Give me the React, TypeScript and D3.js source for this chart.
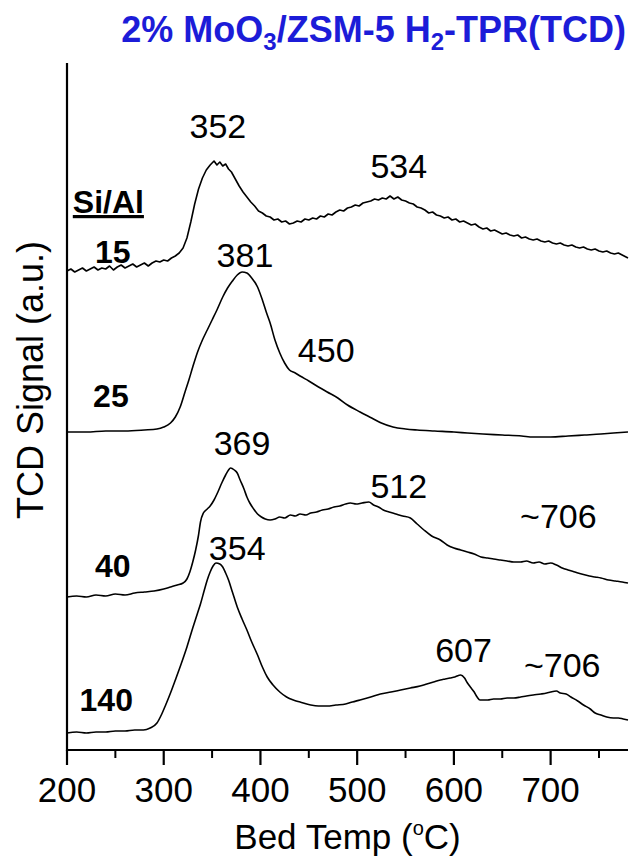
import React from 'react';
import * as d3 from 'd3';

// H2-TPR (TCD) traces of 2% MoO3/ZSM-5 for four Si/Al ratios, stacked with offsets.

const WIDTH = 633;
const HEIGHT = 857;
const PLOT = { left: 67, right: 628, top: 63, bottom: 750 };

const X_DOMAIN: [number, number] = [200, 780];
const Y_DOMAIN: [number, number] = [0, 687];
const MAJOR_TICKS = [200, 300, 400, 500, 600, 700];
const MINOR_TICKS = [250, 350, 450, 550, 650, 750];

// [bed temperature °C, offset TCD signal a.u.]
const SI_AL_15: [number, number][] = [
  [200, 479], [204, 481], [208, 478], [212, 480], [216, 482], [220, 479], [224, 481], [228, 483],
  [232, 480], [236, 482], [240, 481], [244, 484], [248, 480], [252, 483], [256, 485], [260, 482],
  [264, 484], [268, 486], [272, 483], [276, 485], [280, 487], [284, 484], [288, 487], [292, 489],
  [296, 488], [300, 490], [304, 489], [308, 492], [312, 494], [316, 497], [320, 502], [324, 512],
  [328, 528], [332, 546], [336, 561], [340, 572], [344, 580], [348, 585], [352, 589], [355, 585],
  [358, 588], [361, 584], [364, 586], [367, 581], [370, 578], [374, 571], [378, 564], [382, 558],
  [386, 553], [390, 548], [394, 544], [398, 539], [402, 537], [406, 534], [410, 533], [414, 530],
  [418, 531], [422, 528], [426, 529], [430, 526], [434, 527], [438, 529], [442, 528], [446, 531],
  [450, 530], [454, 532], [458, 531], [462, 534], [466, 533], [470, 536], [474, 535], [478, 538],
  [482, 540], [486, 539], [490, 542], [494, 543], [498, 545], [502, 544], [506, 547], [510, 548],
  [514, 549], [518, 551], [522, 550], [526, 552], [530, 551], [534, 554], [538, 551], [542, 553],
  [546, 550], [550, 549], [554, 547], [558, 546], [562, 543], [566, 542], [570, 540], [574, 537],
  [578, 538], [582, 535], [586, 534], [590, 532], [594, 533], [598, 530], [602, 531], [606, 528],
  [610, 529], [614, 527], [618, 525], [622, 526], [626, 523], [630, 521], [634, 522], [638, 519],
  [642, 520], [646, 518], [650, 516], [654, 517], [658, 515], [662, 514], [666, 515], [670, 512],
  [674, 513], [678, 511], [682, 510], [686, 511], [690, 509], [694, 508], [698, 509], [702, 507],
  [706, 506], [710, 507], [714, 505], [718, 504], [722, 505], [726, 503], [730, 502], [734, 503],
  [738, 501], [742, 500], [746, 501], [750, 499], [754, 498], [758, 499], [762, 497], [766, 496],
  [770, 497], [774, 495], [778, 493], [780, 492],
];

const SI_AL_25: [number, number][] = [
  [200, 318], [220, 318], [240, 319], [260, 319], [280, 320], [293, 321], [300, 323], [307, 327],
  [312, 333], [317, 343], [322, 358], [326, 370], [330, 383], [335, 398], [340, 410], [345, 420],
  [350, 430], [355, 440], [361, 453], [366, 462], [371, 469], [376, 475], [381, 478], [386, 477],
  [391, 472], [397, 463], [402, 450], [406, 438], [410, 427], [415, 410], [420, 397], [425, 387],
  [430, 380], [436, 377], [441, 374], [450, 369], [460, 363], [469, 358], [480, 352], [490, 345],
  [503, 338], [515, 332], [525, 327], [537, 323], [550, 321], [562, 320], [580, 319], [600, 318],
  [614, 317], [630, 316], [650, 315], [670, 314], [682, 313], [700, 313], [718, 314], [735, 315],
  [752, 316], [765, 317], [780, 318],
];

const SI_AL_40: [number, number][] = [
  [200, 153], [210, 154], [220, 153], [230, 155], [240, 154], [250, 156], [260, 155], [270, 157],
  [280, 158], [290, 159], [300, 161], [307, 163], [314, 165], [320, 167], [324, 171], [327, 178],
  [330, 188], [333, 200], [336, 215], [338, 228], [341, 237], [345, 241], [348, 244], [352, 250],
  [356, 258], [360, 267], [364, 275], [367, 280], [369, 282], [373, 280], [376, 277], [379, 270],
  [383, 261], [386, 253], [389, 247], [393, 241], [397, 236], [401, 233], [405, 231], [410, 230],
  [415, 231], [420, 233], [425, 232], [431, 235], [436, 234], [441, 236], [447, 235], [452, 237],
  [458, 238], [464, 240], [470, 241], [476, 243], [482, 244], [488, 246], [493, 247], [499, 246],
  [505, 247], [512, 248], [517, 245], [522, 243], [527, 240], [533, 238], [540, 236], [547, 234],
  [555, 232], [562, 226], [569, 220], [577, 214], [586, 210], [593, 205], [600, 202], [607, 200],
  [614, 198], [621, 196], [628, 193], [635, 192], [641, 191], [648, 190], [655, 189], [662, 188],
  [669, 188], [675, 189], [682, 187], [688, 188], [694, 186], [700, 187], [706, 185], [712, 182],
  [718, 180], [725, 178], [732, 176], [740, 174], [746, 173], [752, 172], [760, 170], [767, 169],
  [774, 168], [780, 167],
];

const SI_AL_140: [number, number][] = [
  [200, 17], [210, 18], [220, 17], [230, 18], [240, 18], [250, 19], [260, 19], [270, 20],
  [279, 20], [286, 22], [293, 27], [298, 36], [302, 45], [307, 57], [312, 70], [318, 86],
  [324, 103], [330, 122], [335, 137], [338, 146], [342, 160], [345, 170], [348, 178], [351, 184],
  [354, 187], [358, 186], [361, 183], [364, 177], [367, 170], [371, 158], [376, 143], [381, 131],
  [386, 120], [391, 108], [397, 95], [402, 83], [407, 73], [413, 65], [420, 58], [427, 53],
  [434, 50], [441, 48], [452, 45], [460, 44], [469, 44], [478, 45], [488, 46], [495, 48],
  [503, 50], [514, 53], [524, 56], [535, 58], [545, 60], [555, 62], [565, 64], [572, 66],
  [579, 68], [586, 70], [591, 71], [596, 72], [601, 73], [607, 75], [611, 72], [614, 67],
  [617, 63], [621, 58], [624, 53], [627, 50], [635, 50], [641, 51], [648, 51], [655, 52],
  [662, 52], [669, 53], [675, 54], [682, 55], [690, 56], [696, 57], [700, 58], [706, 59],
  [710, 57], [716, 56], [721, 53], [728, 49], [734, 45], [741, 41], [746, 37], [752, 35],
  [758, 33], [765, 32], [770, 32], [775, 31], [780, 30],
];

const SERIES = [SI_AL_15, SI_AL_25, SI_AL_40, SI_AL_140];
const RATIO_NAMES = ['15', '25', '40', '140'];
// anchor (temperature, signal) of each ratio label
const RATIO_LABEL_T = [229, 227, 229, 213];
const RATIO_LABEL_S = [487, 343, 173, 39];

const PEAK_TEXT = ['352', '534', '381', '450', '369', '512', '~706', '354', '607', '~706'];
const PEAK_T = [356, 543, 384, 468, 381, 543, 708, 376, 610, 712];
const PEAK_S = [612, 572, 483, 388, 295, 252, 222, 190, 88, 73];

const FONT = "'Liberation Sans', Arial, Helvetica, sans-serif";

export default function App() {
  const x = d3.scaleLinear().domain(X_DOMAIN).range([PLOT.left, PLOT.right]);
  const y = d3.scaleLinear().domain(Y_DOMAIN).range([PLOT.bottom, PLOT.top]);
  const smooth = d3
    .line<[number, number]>()
    .x((d) => x(d[0]))
    .y((d) => y(d[1]))
    .curve(d3.curveMonotoneX);
  const jagged = d3
    .line<[number, number]>()
    .x((d) => x(d[0]))
    .y((d) => y(d[1]));

  return (
    <svg
      width={WIDTH}
      height={HEIGHT}
      style={{ position: 'absolute', left: 0, top: 0, background: '#fff' }}
      fontFamily={FONT}
    >
      {/* title */}
      <text x={626} y={42} textAnchor="end" fontSize={36} fontWeight="bold" fill="#1c1cd8">
        2% MoO
        <tspan dy={8} fontSize={24}>3</tspan>
        <tspan dy={-8}>/ZSM-5 H</tspan>
        <tspan dy={8} fontSize={24}>2</tspan>
        <tspan dy={-8}>-TPR(TCD)</tspan>
      </text>

      {/* traces */}
      {SERIES.map((s, i) => (
        <path
          key={i}
          d={(i === 0 ? jagged(s) : smooth(s)) || ''}
          fill="none"
          stroke="#000"
          strokeWidth={1.6}
          strokeLinejoin="round"
        />
      ))}

      {/* axes */}
      <line x1={PLOT.left} x2={PLOT.left} y1={PLOT.top} y2={PLOT.bottom + 1} stroke="#000" strokeWidth={2.2} />
      <line x1={PLOT.left - 1} x2={PLOT.right} y1={PLOT.bottom} y2={PLOT.bottom} stroke="#000" strokeWidth={2.2} />
      {MAJOR_TICKS.map((t) => (
        <g key={'M' + t}>
          <line x1={x(t)} x2={x(t)} y1={PLOT.bottom} y2={PLOT.bottom + 15} stroke="#000" strokeWidth={2.2} />
          <text x={x(t)} y={802} textAnchor="middle" fontSize={35} fill="#000">
            {t}
          </text>
        </g>
      ))}
      {MINOR_TICKS.map((t) => (
        <line key={'m' + t} x1={x(t)} x2={x(t)} y1={PLOT.bottom} y2={PLOT.bottom + 8} stroke="#000" strokeWidth={2} />
      ))}

      {/* axis titles */}
      <text x={(PLOT.left + PLOT.right) / 2} y={849} textAnchor="middle" fontSize={35} fill="#000">
        Bed Temp (
        <tspan dy={-14} fontSize={20}>o</tspan>
        <tspan dy={14}>C)</tspan>
      </text>
      <text transform="translate(43,380) rotate(-90)" textAnchor="middle" fontSize={36} fill="#000">
        TCD Signal (a.u.)
      </text>

      {/* ratio labels */}
      <text x={x(206)} y={y(537)} fontSize={32} fontWeight="bold" textDecoration="underline" fill="#000">
        Si/Al
      </text>
      {RATIO_NAMES.map((n, i) => (
        <text key={n} x={x(RATIO_LABEL_T[i])} y={y(RATIO_LABEL_S[i])} fontSize={32} fontWeight="bold" fill="#000">
          {n}
        </text>
      ))}

      {/* peak temperatures */}
      {PEAK_TEXT.map((p, i) => (
        <text key={i} x={x(PEAK_T[i])} y={y(PEAK_S[i])} textAnchor="middle" fontSize={34} fill="#000">
          {p}
        </text>
      ))}
    </svg>
  );
}
